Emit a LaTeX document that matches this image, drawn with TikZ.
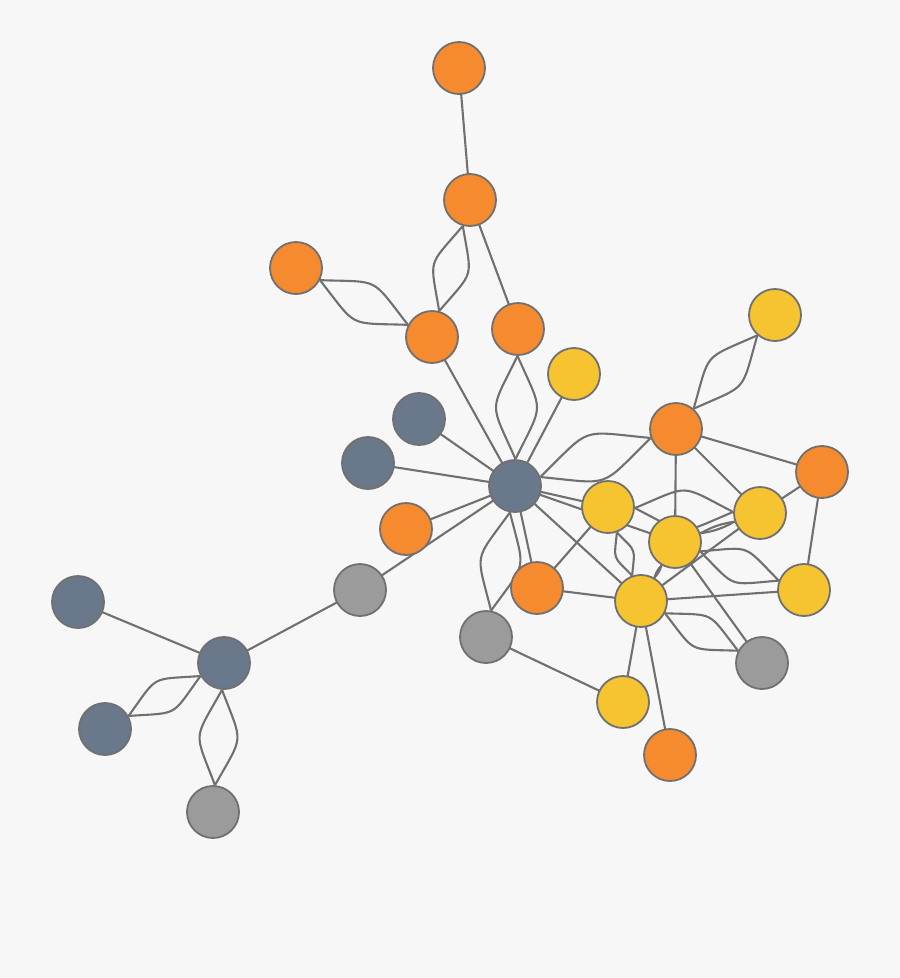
\documentclass[tikz,border=0pt]{standalone}
\usetikzlibrary{calc}
\pgfdeclarelayer{back}
\pgfdeclarelayer{edges}
\pgfsetlayers{back,edges,main}
\definecolor{bgc}{HTML}{F7F7F7}
\definecolor{orn}{HTML}{F68A2F}
\definecolor{yel}{HTML}{F6C431}
\definecolor{sla}{HTML}{6A788C}
\definecolor{gry}{HTML}{9B9B9B}
\definecolor{lnc}{HTML}{707070}
\tikzset{
  vtx/.style={circle,draw=lnc,line width=1.8pt,minimum size=52pt,inner sep=0pt},
  vo/.style={vtx,fill=orn},
  vy/.style={vtx,fill=yel},
  vs/.style={vtx,fill=sla},
  vg/.style={vtx,fill=gry},
  edge/.style={draw=lnc,line width=2.1pt}
}
\newcommand\lensedge[3][25]{%
  \path (#2) -- (#3) coordinate[pos=0] (lA) coordinate[pos=1] (lB);
  \draw[edge] (lA) to[bend left=#1,looseness=1.6] (lB);
  \draw[edge] (lA) to[bend right=#1,looseness=1.6] (lB);}
\newcommand\narrowedge[3][10]{%
  \path (#2) -- (#3) coordinate[pos=0] (lA) coordinate[pos=1] (lB);
  \draw[edge] (lA) to[bend left=#1] (lB);
  \draw[edge] (lA) to[bend right=#1] (lB);}
\begin{document}
\begin{tikzpicture}[x=1pt,y=-1pt]
\begin{pgfonlayer}{back}
\fill[bgc] (0,0) rectangle (900,978);
\end{pgfonlayer}
\useasboundingbox (0,0) rectangle (900,978);
% orange
\node[vo] (O1) at (459,68) {};
\node[vo] (O2) at (470,200) {};
\node[vo] (O3) at (296,268) {};
\node[vo] (O4) at (432,337) {};
\node[vo] (O5) at (518,329) {};
\node[vo] (O6) at (676,429) {};
\node[vo] (O7) at (822,472) {};
\node[vo] (O8) at (406,529) {};
\node[vo] (O9) at (537,588) {};
\node[vo] (O10) at (670,755) {};
% yellow
\node[vy] (Y1) at (775,315) {};
\node[vy] (Y2) at (574,374) {};
\node[vy] (Y3) at (608,507) {};
\node[vy] (Y4) at (760,513) {};
\node[vy] (Y5) at (675,542) {};
\node[vy] (Y6) at (641,601) {};
\node[vy] (Y7) at (804,590) {};
\node[vy] (Y8) at (623,702) {};
% slate
\node[vs] (S1) at (419,419) {};
\node[vs] (S2) at (368,463) {};
\node[vs] (S3) at (515,486) {};
\node[vs] (S4) at (78,602) {};
\node[vs] (S5) at (224,663) {};
\node[vs] (S6) at (105,729) {};
% gray
\node[vg] (G1) at (360,590) {};
\node[vg] (G2) at (486,637) {};
\node[vg] (G3) at (762,663) {};
\node[vg] (G4) at (213,812) {};
\begin{pgfonlayer}{edges}
\foreach \a/\b in {O1/O2,O2/O5,O4/S3,Y2/S3,S1/S3,S2/S3,O8/S3,G1/S3,G1/S5,S4/S5,
  S3/Y3,S3/Y5,S3/Y6,S3/O9,O9/Y3,O9/Y6,O6/Y5,O6/Y4,O6/O7,O7/Y4,O7/Y7,Y5/G3,
  Y6/Y7,Y6/Y4,Y6/Y8,Y6/O10,G2/Y8}
  \draw[edge] (\a.center) -- (\b.center);
\lensedge{O2}{O4}
\lensedge{O3}{O4}
\lensedge{O5}{S3}
\lensedge{S5}{S6}
\lensedge{S5}{G4}
\lensedge{S3}{O6}
\lensedge{S3}{G2}
\lensedge{O6}{Y1}
\lensedge{Y3}{Y4}
\lensedge{Y3}{Y6}
\lensedge{Y5}{Y7}
\lensedge{Y6}{G3}
\narrowedge{Y5}{Y4}
\narrowedge[12]{Y5}{Y6}
\end{pgfonlayer}
\end{tikzpicture}
\end{document}
